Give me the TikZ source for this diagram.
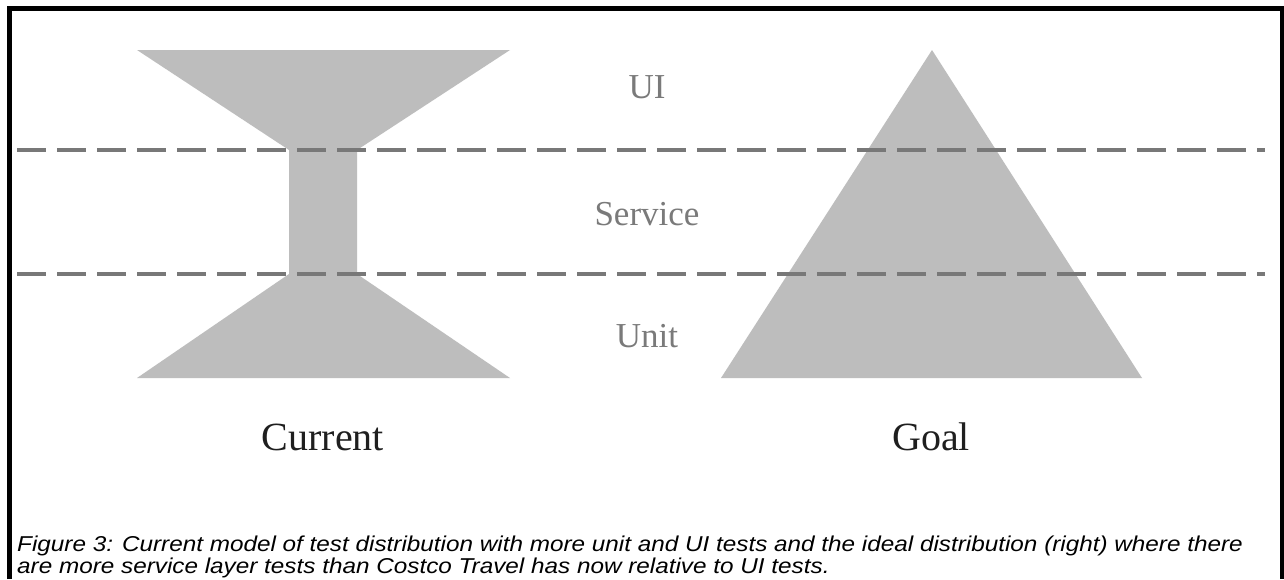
\documentclass[tikz,border=0pt]{standalone}
\usepackage{fontspec}
\setmainfont{Liberation Serif}
\newfontfamily\capfont[FakeStretch=1.13]{Liberation Sans}
\definecolor{barfill}{HTML}{BDBDBD}
\definecolor{layerline}{HTML}{787878}
\definecolor{layertext}{HTML}{7A7A7A}
\tikzset{
  layer/.style={draw=layerline, line width=3.5pt, dash pattern=on 29pt off 11pt},
  shapefill/.style={fill=barfill, draw=none},
  layerlabel/.style={text=layertext, inner sep=0pt, anchor=base, font=\fontsize{35}{40}\selectfont},
  modellabel/.style={text=black!88, inner sep=0pt, anchor=base, font=\fontsize{40}{46}\selectfont},
  caption/.style={inner sep=0pt, anchor=base west, font=\capfont\itshape\fontsize{21.5}{24}\selectfont}
}
\begin{document}
\begin{tikzpicture}[x=1pt, y=-1pt]
\useasboundingbox (0,0) rectangle (1284,579);
\fill[white] (0,0) rectangle (1284,579);
\draw[line width=4.5pt] (9.5,579) -- (9.5,8.5) -- (1282.5,8.5) -- (1282.5,579);

% hourglass and pyramid
\fill[shapefill] (137,50) -- (510,50) -- (357,150) -- (357,274) -- (510,378)
  -- (137,378) -- (289,274) -- (289,150) -- cycle;
\fill[shapefill] (932,50) -- (1142,378) -- (721,378) -- cycle;

% layer borders
\coordinate (top-l) at (17,150);
\coordinate (top-r) at (1265,150);
\coordinate (bot-l) at (17,274);
\coordinate (bot-r) at (1265,274);
\draw[layer] (top-l) -- (top-r);
\draw[layer] (bot-l) -- (bot-r);

\node[layerlabel] (ui) at (647,98) {UI};
\node[layerlabel] (service) at (647,225) {Service};
\node[layerlabel] (unit) at (647,347) {Unit};

\node[modellabel] (current) at (323,450) {Current};
\node[modellabel] (goal) at (931,450) {Goal};

\node[caption] (figcap-a) at (17,551) {Figure 3: Current model of test distribution with more unit and UI tests and the ideal distribution (right) where there};
\node[caption] (figcap-b) at (17,573) {are more service layer tests than Costco Travel has now relative to UI tests.};
\end{tikzpicture}
\end{document}
